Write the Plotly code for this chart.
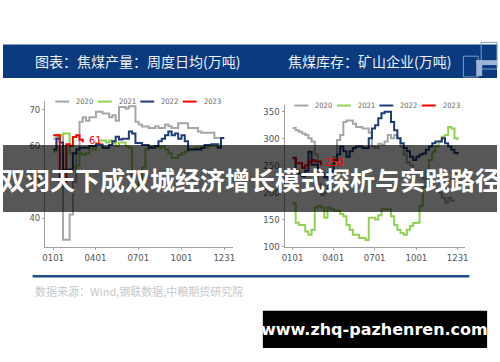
import plotly.graph_objects as go

W, H = 500, 362

# ---------------- data ----------------
tick_days = [0, 90, 181, 273, 364]
tick_labels = ["0101", "0401", "0701", "1001", "1231"]
years = ["2020", "2021", "2022", "2023"]
colors = ["#a6a6a6", "#92d050", "#1f3c7a", "#ff0000"]

# 焦煤产量：周度日均(万吨)  weekly values
prod_2020 = [62, 62.5, 63, 34, 34, 41, 50, 58, 66.7, 68, 67, 68, 68, 69.5, 69.5, 69, 69, 68, 68.5, 67,
             70.8, 70.8, 70.4, 71, 71, 66.7, 66, 65.4, 65.4, 65, 65, 65.5, 65, 65, 66, 65.5, 65, 65,
             66.3, 66.3, 66.3, 65, 65, 65, 64, 63.7, 63.7, 63.7, 63.7, 62.2, 62.2, 62]
prod_2021 = [58.5, 63, 63, 63.5, 63.5, 58, 54, 54.5, 58, 57.6, 58, 60, 59, 60.8, 61.5, 61.5, 61, 61.5,
             61, 60, 61, 61, 60, 59.5, 48.5, 48.5, 50, 54, 59, 60, 60, 60, 59.5, 60, 59, 58, 56.7, 56.7,
             57.5, 58, 58.5, 59, 59, 59.5, 59.5, 59.5, 59.5, 60, 60, 60, 60.5, 60]
prod_2022 = [59, 62, 61, 53.5, 53.5, 53.5, 58, 59, 59.5, 59.5, 59.5, 60, 60, 60.4, 60.4, 59.5, 59.5,
             60.3, 61.3, 62.6, 61.8, 62, 62, 64, 63.5, 60.8, 60.8, 60.3, 60.3, 59.5, 59.5, 60, 61.3, 62,
             63, 64, 63, 63.5, 62, 63, 61.3, 59, 59, 59, 59, 59.5, 60.3, 60.3, 60.5, 60.5, 59.5, 62.2, 62.2]
prod_2023 = [63, 63, 50, 50, 60.5, 60, 62.5, 63, 61.7, 61]

# 焦煤库存：矿山企业(万吨)  weekly values
stock_2020 = [319, 315, 312, 309, 306, 300, 294, 270, 215, 195, 200, 225, 250, 265, 297, 306, 330, 333,
              333, 327, 321, 321, 318, 318, 310, 285, 282, 290, 288, 294, 306, 300, 306, 300, 285, 270,
              255, 250, 240, 240, 235, 225, 220, 215, 210, 205, 200, 190, 181, 190, 184, 184]
stock_2021 = [180, 144, 140, 140, 128, 122, 131, 172, 175, 172, 153, 172, 169, 166, 166, 160, 156, 140,
              131, 122, 122, 116, 116, 112, 153, 153, 150, 158, 169, 169, 169, 156, 140, 131, 125, 122,
              131, 138, 143.6, 144, 175, 210, 240, 260, 275, 285, 294, 303, 306, 321, 318, 300, 297]
stock_2022 = [264, 240, 235, 230, 240, 275, 251, 251, 242, 235, 228, 235, 239, 260, 270, 285, 276, 266,
              276, 282, 285, 285, 282, 282, 300, 318, 324, 337, 346, 349, 349, 330, 315, 300, 291, 282,
              276, 266, 260, 266, 270, 272, 279, 285, 291, 294, 294, 300, 291, 285, 279, 273, 270]
stock_2023 = [263, 254, 254, 245, 250, 257, 260, 257, 257, 250]

prod = [prod_2020, prod_2021, prod_2022, prod_2023]
stock = [stock_2020, stock_2021, stock_2022, stock_2023]

header_left = "图表：焦煤产量：周度日均(万吨)"
header_right = "焦煤库存：矿山企业(万吨)"
banner = "双羽天下成双城经济增长模式探析与实践路径"
source = "数据来源：Wind,钢联数据,中粮期货研究院"
watermark = "www.zhq-pazhenren.com"


def px(x):
    return x / W


def py(y):
    return 1 - y / H


fig = go.Figure()
for i, yr in enumerate(years):
    fig.add_trace(go.Scatter(x=[7 * k for k in range(len(prod[i]))], y=prod[i], mode="lines",
                             line=dict(color=colors[i], width=2, shape="hv"), name=yr,
                             xaxis="x", yaxis="y", showlegend=False))
for i, yr in enumerate(years):
    fig.add_trace(go.Scatter(x=[7 * k for k in range(len(stock[i]))], y=stock[i], mode="lines",
                             line=dict(color=colors[i], width=2, shape="hv"), name=yr,
                             xaxis="x2", yaxis="y2", showlegend=False))

tickfont = dict(family="Liberation Sans Narrow, DejaVu Sans Condensed, Arial Narrow, sans-serif",
                size=9.5, color="#555555")
axis_common = dict(showgrid=False, zeroline=False, showline=True, linecolor="#a0a0a0", linewidth=1,
                   ticks="outside", ticklen=2, tickcolor="#a0a0a0", tickfont=tickfont, fixedrange=True)

fig.update_layout(
    width=W, height=H, autosize=False,
    margin=dict(l=0, r=0, t=0, b=0),
    paper_bgcolor="white", plot_bgcolor="white",
    xaxis=dict(domain=[px(42.7), px(233)], range=[-17, 383], tickvals=tick_days,
               ticktext=tick_labels, anchor="y", **axis_common),
    yaxis=dict(domain=[py(250), py(102)], range=[32.1, 72.6], tickvals=[40, 50, 60, 70],
               anchor="x", **axis_common),
    xaxis2=dict(domain=[px(285), px(468)], range=[-17.5, 381], tickvals=tick_days,
                ticktext=tick_labels, anchor="y2", **axis_common),
    yaxis2=dict(domain=[py(250), py(106.7)], range=[100, 361], tickvals=[100, 150, 200, 250, 300, 350],
                anchor="x2", **axis_common),
)

shapes = []
annotations = []

# header band
shapes.append(dict(type="rect", xref="paper", yref="paper", x0=0, x1=1, y0=py(79), y1=py(45),
                   fillcolor="#0b3a7e", line=dict(width=0), layer="below"))
annotations.append(dict(text=header_left, xref="paper", yref="paper", x=px(30), y=py(62),
                        xanchor="left", yanchor="middle", showarrow=False,
                        font=dict(family="Noto Sans CJK SC", size=14, color="#eef2f8")))
annotations.append(dict(text=header_right, xref="paper", yref="paper", x=px(286), y=py(62),
                        xanchor="left", yanchor="middle", showarrow=False,
                        font=dict(family="Noto Sans CJK SC", size=14, color="#eef2f8")))
# logo
shapes.append(dict(type="rect", xref="paper", yref="paper", x0=px(466), x1=px(481), y0=py(78), y1=py(57),
                   line=dict(color="#7f9cc8", width=1), fillcolor="rgba(0,0,0,0)"))
shapes.append(dict(type="rect", xref="paper", yref="paper", x0=px(484), x1=px(500), y0=py(70), y1=py(43),
                   line=dict(color="#7f9cc8", width=1), fillcolor="rgba(0,0,0,0)"))
shapes.append(dict(type="rect", xref="paper", yref="paper", x0=px(479), x1=px(500), y0=py(66), y1=py(61),
                   line=dict(width=0), fillcolor="#9fb5d8"))
shapes.append(dict(type="rect", xref="paper", yref="paper", x0=px(479), x1=px(485), y0=py(77), y1=py(61),
                   line=dict(width=0), fillcolor="#9fb5d8"))

# legends (manual, small)
legend_font = dict(family="Liberation Sans Narrow, DejaVu Sans Condensed, sans-serif", size=7.5,
                   color="#666666")
for base_x, y_leg in [(53, 103), (295, 107)]:
    for i, yr in enumerate(years):
        x0 = base_x + i * 43
        shapes.append(dict(type="line", xref="paper", yref="paper", x0=px(x0), x1=px(x0 + 14),
                           y0=py(y_leg), y1=py(y_leg), line=dict(color=colors[i], width=2)))
        annotations.append(dict(text=yr, xref="paper", yref="paper", x=px(x0 + 19), y=py(y_leg),
                                xanchor="left", yanchor="middle", showarrow=False, font=legend_font))

# end labels
annotations.append(dict(text=f"{prod_2023[-1]:.0f}", xref="x", yref="y", x=7 * (len(prod_2023) - 1),
                        y=prod_2023[-1], xanchor="left", yanchor="middle", xshift=4, yshift=2,
                        showarrow=False, font=dict(family="Liberation Sans Narrow, DejaVu Sans Condensed",
                                                   size=11, color="#ff0000")))
annotations.append(dict(text=f"{stock_2023[-1]:.0f}", xref="x2", yref="y2", x=7 * (len(stock_2023) - 1),
                        y=stock_2023[-1], xanchor="left", yanchor="middle", xshift=2, yshift=3,
                        showarrow=False, font=dict(family="Liberation Sans Narrow, DejaVu Sans Condensed",
                                                   size=11, color="#ff0000")))

# bottom rule and source
shapes.append(dict(type="line", xref="paper", yref="paper", x0=px(30), x1=px(472), y0=py(280), y1=py(280),
                   line=dict(color="#1e4d8c", width=2.5)))
annotations.append(dict(text=source, xref="paper", yref="paper", x=px(30), y=py(295), xanchor="left",
                        yanchor="middle", showarrow=False,
                        font=dict(family="Noto Sans CJK SC", size=11, color="#c8c8c8")))

# overlay banner
shapes.append(dict(type="rect", xref="paper", yref="paper", x0=0, x1=1, y0=py(215), y1=py(147),
                   fillcolor="rgba(0,0,0,0.66)", line=dict(width=0), layer="above"))
annotations.append(dict(text="<b>" + banner + "</b>", xref="paper", yref="paper", x=0.5, y=py(181),
                        xanchor="center", yanchor="middle", showarrow=False,
                        font=dict(family="Noto Sans CJK SC", size=25, color="white")))

# watermark
shapes.append(dict(type="rect", xref="paper", yref="paper", x0=px(263), x1=px(490), y0=py(353), y1=py(315),
                   fillcolor="black", line=dict(width=0), layer="above"))
annotations.append(dict(text="<b>" + watermark + "</b>", xref="paper", yref="paper", x=px(376.5), y=py(334),
                        xanchor="center", yanchor="middle", showarrow=False,
                        font=dict(family="DejaVu Sans", size=16, color="white")))

fig.update_layout(shapes=shapes, annotations=annotations)
fig.write_html("out.html")
